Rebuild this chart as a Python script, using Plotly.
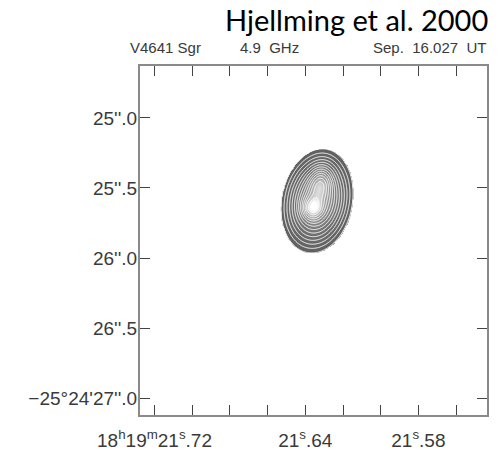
import numpy as np
import plotly.graph_objects as go

# Tick positions and labels (RA in seconds of time, Dec in arcsec past -25°24')
ra_ticks = [21.72, 21.70, 21.68, 21.66, 21.64, 21.62, 21.60, 21.58, 21.56]
ra_labels = ["18<sup>h</sup>19<sup>m</sup>21<sup>s</sup>.72", "", "", "",
             "21<sup>s</sup>.64", "", "", "21<sup>s</sup>.58", ""]
dec_ticks = [25.0, 25.5, 26.0, 26.5, 27.0]
dec_labels = ["25''.0", "25''.5", "26''.0", "26''.5",
              "\u221225\u00b024'27''.0"]

# Source components: centre RA (s), centre Dec (arcsec), amplitude,
# major/minor sigma (arcsec), position angle (deg, east of north)
comp_ra = [21.6338, 21.6362, 21.6320]
comp_dec = [25.593, 25.643, 25.470]
comp_amp = [0.60, 0.36, 0.30]
comp_smaj = [0.168, 0.050, 0.075]
comp_smin = [0.114, 0.045, 0.050]
comp_pa = [11.0, 0.0, 10.0]

ARCSEC_PER_SEC = 13.55  # 15 * cos(dec)

ra_grid = np.linspace(21.668, 21.600, 241)
dec_grid = np.linspace(25.10, 26.10, 261)
RA, DEC = np.meshgrid(ra_grid, dec_grid)

brightness = np.zeros_like(RA)
for ra0, de0, amp, smaj, smin, pa in zip(comp_ra, comp_dec, comp_amp,
                                          comp_smaj, comp_smin, comp_pa):
    dx = (ra0 - RA) * ARCSEC_PER_SEC   # east offset -> plotted to the left
    dy = (de0 - DEC)                   # north offset (smaller arcsec = north)
    t = np.deg2rad(pa)
    u = dx * np.sin(t) + dy * np.cos(t)   # along major axis
    v = dx * np.cos(t) - dy * np.sin(t)   # along minor axis
    brightness += amp * np.exp(-0.5 * ((u / smaj) ** 2 + (v / smin) ** 2))

# square-root stretch so the contour levels follow a power-law spacing
display = np.sqrt(brightness)
lowest = np.sqrt(0.05)

fig = go.Figure()
fig.add_trace(go.Contour(
    x=ra_grid, y=dec_grid, z=display,
    zmin=0.0, zmax=1.0,
    contours=dict(start=lowest, end=1.0, size=0.052, coloring="heatmap"),
    colorscale=[[0.0, "#ffffff"], [lowest - 0.002, "#ffffff"],
                [lowest, "#606060"], [0.45, "#6e6e6e"], [0.65, "#868686"],
                [0.8, "#a6a6a6"], [0.88, "#d6d6d6"], [0.94, "#ffffff"],
                [1.0, "#ffffff"]],
    line=dict(color="white", width=1.0, smoothing=1.0),
    showscale=False,
    hoverinfo="skip",
))

axis_common = dict(
    showgrid=False, zeroline=False, automargin=False,
    showline=True, linecolor="#8a8a8a", linewidth=2, mirror="ticks",
    ticks="inside", ticklen=10, tickwidth=1.2, tickcolor="#444444",
    tickfont=dict(family="Liberation Sans", size=19, color="#3a3a3a"),
)

fig.update_layout(
    width=500, height=452,
    margin=dict(l=140, r=13, t=66, b=37),
    paper_bgcolor="white", plot_bgcolor="white",
    xaxis=dict(range=[21.7277, 21.5436], tickmode="array",
               tickvals=ra_ticks, ticktext=ra_labels,
               ticklabelstandoff=7, **axis_common),
    yaxis=dict(range=[27.121, 24.629], tickmode="array",
               tickvals=dec_ticks, ticktext=dec_labels,
               ticklabelstandoff=-3, **axis_common),
    showlegend=False,
)

fig.add_annotation(
    text="Hjellming et al. 2000", xref="paper", yref="paper",
    x=1.009, y=1.189, xanchor="right", yanchor="top", showarrow=False,
    font=dict(family="Lato", size=29, color="black"),
)

# Header line: source, frequency, epoch
header_font = dict(family="Liberation Sans", size=15, color="#3a3a3a")
fig.add_annotation(text="V4641 Sgr", xref="paper", yref="paper",
                   x=-0.035, y=1.052, xanchor="left", yanchor="middle",
                   showarrow=False, font=header_font)
fig.add_annotation(text="4.9  GHz", xref="paper", yref="paper",
                   x=0.282, y=1.052, xanchor="left", yanchor="middle",
                   showarrow=False, font=header_font)
fig.add_annotation(text="Sep.  16.027  UT", xref="paper", yref="paper",
                   x=1.004, y=1.052, xanchor="right", yanchor="middle",
                   showarrow=False, font=header_font)

fig.write_html("out.html")
